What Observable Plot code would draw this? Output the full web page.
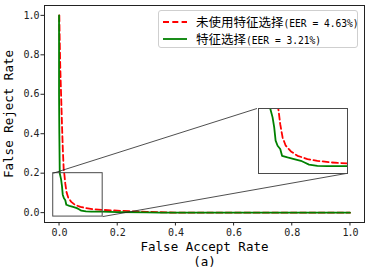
<!DOCTYPE html>
<html><head><meta charset="utf-8">
<script src="https://cdn.jsdelivr.net/npm/d3@7"></script>
<script src="https://cdn.jsdelivr.net/npm/@observablehq/plot@0.6"></script>
<style>
body{margin:0;background:#fff;}
#wrap{position:relative;width:368px;height:272px;overflow:hidden;background:#fff;}
#wrap svg.mainplot g[aria-label$="tick label"] text{letter-spacing:-1px;}
.inset{position:absolute;max-width:none !important;}
.legend{position:absolute;left:158px;top:10px;width:200px;height:38px;border:1px solid #cfcfcf;border-radius:3px;background:rgba(255,255,255,0.85);box-sizing:border-box;}
.row{position:absolute;left:0;height:16px;width:100%;}
.row svg{position:absolute;left:3px;top:0;}
.row .lbl{position:absolute;left:37px;top:0;line-height:16px;white-space:nowrap;color:#000;}
.cjk{font-family:"Noto Sans CJK SC";font-size:12.5px;}
.lat{font-family:"DejaVu Sans Mono",monospace;font-size:9.6px;}
</style></head><body><div id="wrap"></div>
<script>
// ---- data ----
const seriesNames = ["未使用特征选择", "特征选择"];
const seriesEER = ["(EER = 4.63%)", "(EER = 3.21%)"];
const seriesColors = ["#ff0000", "#008000"];

const redFAR = [0.001, 0.002, 0.004, 0.007, 0.010, 0.013, 0.016, 0.0184, 0.0215, 0.026, 0.032, 0.042, 0.0545, 0.0735, 0.0925, 0.118, 0.15, 0.2, 0.25, 0.3, 0.35, 0.4, 0.6, 0.8, 1.0];
const redFRR = [1.0, 0.9, 0.75, 0.6, 0.45, 0.32, 0.22, 0.192, 0.147, 0.102, 0.074, 0.0547, 0.040, 0.029, 0.023, 0.0175, 0.014, 0.010, 0.007, 0.004, 0.002, 0.0, 0.0, 0.0, 0.0];

const greenFAR = [0.0, 0.0, 0.001, 0.0024, 0.0069, 0.010, 0.0127, 0.0165, 0.0215, 0.025, 0.0355, 0.048, 0.061, 0.067, 0.0765, 0.0925, 0.111, 0.15, 0.2, 0.3, 0.35, 1.0];
const greenFRR = [1.0, 0.6, 0.4, 0.2, 0.170, 0.136, 0.091, 0.074, 0.063, 0.040, 0.0345, 0.029, 0.023, 0.018, 0.010, 0.006, 0.005, 0.005, 0.003, 0.001, 0.0, 0.0];

const xTicks = [0, 0.2, 0.4, 0.6, 0.8, 1.0];
const yTicks = [0, 0.2, 0.4, 0.6, 0.8, 1.0];
const xLabel = "False Accept Rate";
const yLabel = "False Reject Rate";
const caption = "(a)";
const zoomBox = {x1: -0.02, x2: 0.15, y1: -0.02, y2: 0.2};
const insetAt = {x1: 0.685, x2: 0.993, y1: 0.2, y2: 0.53};

// ---- build ----
const red = redFAR.map((x, i) => ({x, y: redFRR[i]}));
const green = greenFAR.map((x, i) => ({x, y: greenFRR[i]}));
const mono = "'DejaVu Sans Mono', monospace";
const fmt = d3.format(".1f");

const lineMarks = (clip) => [
  Plot.line(red, {x: "x", y: "y", stroke: seriesColors[0], strokeWidth: 1.8, strokeDasharray: "6,3.3", clip}),
  Plot.line(green, {x: "x", y: "y", stroke: seriesColors[1], strokeWidth: 1.8, clip})
];

const labelOpts = {text: d => d, fontSize: 12.5, fill: "#000", textAnchor: "middle", lineAnchor: "middle"};

const main = Plot.plot({
  width: 368, height: 272,
  marginLeft: 44, marginRight: 4, marginTop: 5, marginBottom: 50,
  className: "mainplot",
  style: {fontFamily: mono, fontSize: "10px", background: "white", color: "#222"},
  x: {domain: [-0.05, 1.05], ticks: xTicks, tickFormat: fmt, tickSize: 3.5, tickPadding: 2.5, label: null},
  y: {domain: [-0.05, 1.05], ticks: yTicks, tickFormat: fmt, tickSize: 3.5, tickPadding: 2.5, label: null},
  marks: [
    ...lineMarks(false),
    Plot.rect([zoomBox], {x1: "x1", x2: "x2", y1: "y1", y2: "y2", fill: "none", stroke: "#4a4a4a", strokeWidth: 1}),
    Plot.link([
      {x1: zoomBox.x1, y1: zoomBox.y2, x2: insetAt.x1, y2: insetAt.y2},
      {x1: zoomBox.x2, y1: zoomBox.y1, x2: insetAt.x2, y2: insetAt.y1}
    ], {x1: "x1", y1: "y1", x2: "x2", y2: "y2", stroke: "#222", strokeWidth: 0.8}),
    Plot.frame({stroke: "#222"}),
    Plot.text([xLabel], {...labelOpts, frameAnchor: "bottom", dy: 24}),
    Plot.text([caption], {...labelOpts, frameAnchor: "bottom", dy: 39}),
    Plot.text([yLabel], {...labelOpts, frameAnchor: "left", dx: -36, rotate: -90})
  ]
});

const wrap = document.getElementById("wrap");
wrap.appendChild(main);

// inset axes placed via the main scales (1px margin so the frame is fully visible)
const sx = main.scale("x"), sy = main.scale("y");
const L = Math.round(sx.apply(insetAt.x1)), R = Math.round(sx.apply(insetAt.x2));
const T = Math.round(sy.apply(insetAt.y2)), B = Math.round(sy.apply(insetAt.y1));
const inset = Plot.plot({
  width: R - L + 2, height: B - T + 2, margin: 1,
  style: {background: "white"},
  x: {domain: [zoomBox.x1, zoomBox.x2], axis: null},
  y: {domain: [zoomBox.y1, zoomBox.y2], axis: null},
  marks: [...lineMarks(true), Plot.frame({stroke: "#4a4a4a"})]
});
inset.classList.add("inset");
inset.style.left = (L - 1) + "px";
inset.style.top = (T - 1) + "px";
wrap.appendChild(inset);

// legend
const leg = document.createElement("div");
leg.className = "legend";
const rowTops = [3, 20];
seriesNames.forEach((name, i) => {
  const row = document.createElement("div");
  row.className = "row";
  row.style.top = rowTops[i] + "px";
  const dash = i === 0 ? 'stroke-dasharray="6,3.3"' : "";
  row.innerHTML = `<svg width="26" height="16"><line x1="1" x2="25" y1="8" y2="8" stroke="${seriesColors[i]}" stroke-width="1.8" ${dash}/></svg>` +
    `<span class="lbl"><span class="cjk">${name}</span><span class="lat">${seriesEER[i]}</span></span>`;
  leg.appendChild(row);
});
wrap.appendChild(leg);
</script></body></html>
